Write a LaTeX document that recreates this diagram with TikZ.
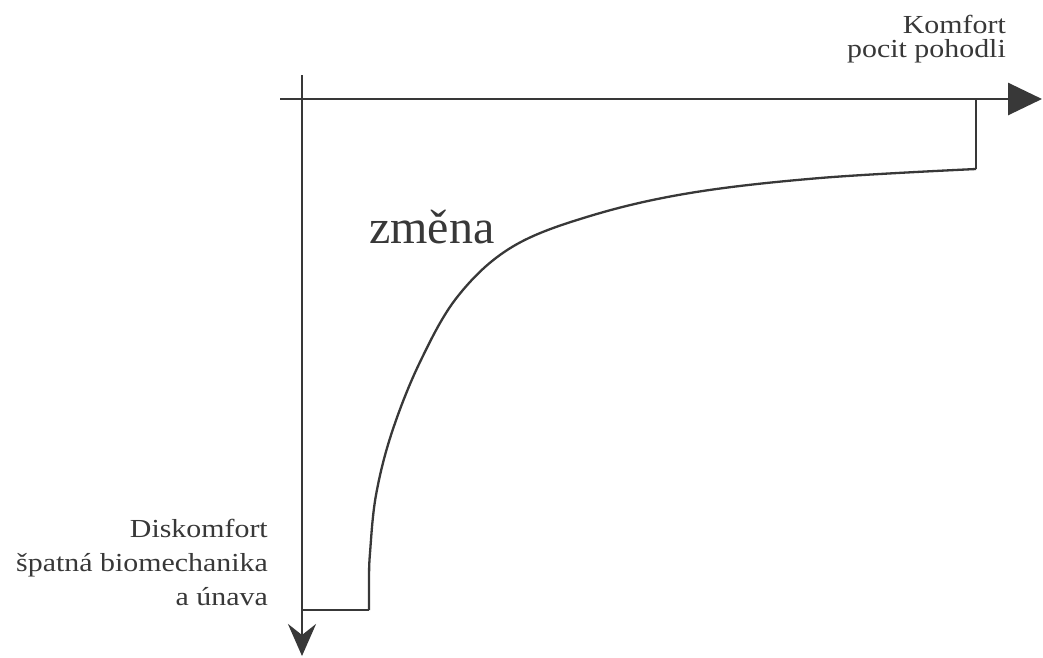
\documentclass[tikz,border=0pt]{standalone}
\usepackage{fontspec}
\setmainfont{Liberation Serif}
\usetikzlibrary{arrows.meta}
\definecolor{ink}{HTML}{383838}
\newcommand\widetxt[1]{\scalebox{1.15}[1]{#1}}
\begin{document}
\begin{tikzpicture}[x=1pt,y=-1pt,
  axis/.style={draw=ink,line width=2.8pt},
  curveline/.style={draw=ink,line width=2.3pt,line join=round},
  lblright/.style={text=ink,font=\fontsize{26}{24}\selectfont,inner sep=0pt,align=right},
  lblleft/.style={text=ink,font=\fontsize{26}{34}\selectfont,inner sep=0pt,align=right},
  big/.style={text=ink,font=\fontsize{48}{54}\selectfont,inner sep=0pt}]
\useasboundingbox (0,0) rectangle (1043,657);
\fill[white] (0,0) rectangle (1043,657);
\coordinate (hstart) at (280,99);
\coordinate (hend) at (1042,99);
\coordinate (vstart) at (302,75);
\coordinate (vend) at (302,656);
\coordinate (rtop) at (976,99);
\coordinate (rbot) at (976,169);
\coordinate (s0) at (302,610);
\coordinate (s1) at (369,610);
\draw[axis,-{Triangle[length=34pt,width=32pt]}] (hstart) -- (hend);
\draw[axis,-{Stealth[length=32pt,width=28pt,inset=11pt]}] (vstart) -- (vend);
\draw[curveline] (s0) -- (s1);
\draw[curveline] plot[smooth,tension=0.6] coordinates {(369,610) (369,580) (370,553) (376,495) (392,432) (420,362) (458,296) (512,247) (590,216) (690,193) (820,178) (976,169)};
\draw[curveline] (rbot) -- (rtop);
\node[lblright,anchor=base east] (komfort) at (1006,57) {\widetxt{Komfort}\\\widetxt{pocit pohodli}};
\node[lblleft,anchor=base east] (disk) at (268,605) {\widetxt{Diskomfort}\\\widetxt{špatná biomechanika}\\\widetxt{a únava}};
\node[big,anchor=base west] (zmena) at (369,243) {změna};
\end{tikzpicture}
\end{document}
